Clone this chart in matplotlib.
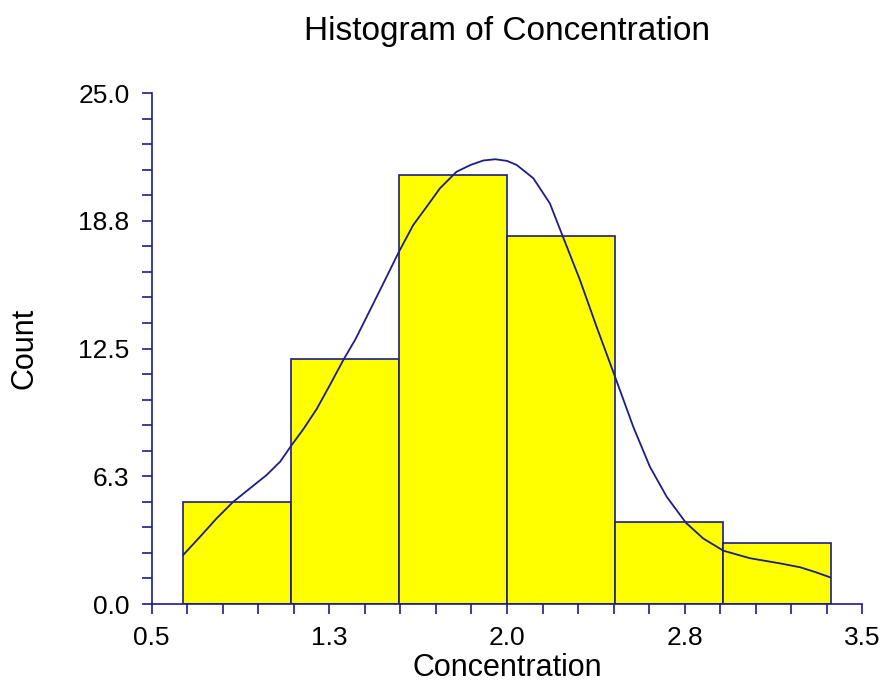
import matplotlib
matplotlib.use("Agg")
import matplotlib.pyplot as plt
import numpy as np
from matplotlib.ticker import FixedLocator

plt.rcParams['font.family'] = ['Liberation Sans', 'DejaVu Sans']

navy = '#1c1c8a'

# histogram bin edges and counts
bin_edges = [0.632, 1.088, 1.544, 2.000, 2.456, 2.912, 3.368]
counts = [5, 12, 21, 18, 4, 3]

# density curve (scaled to counts)
curve_x = [0.633, 0.704, 0.774, 0.844, 0.915, 0.985, 1.042, 1.091, 1.140, 1.197,
           1.254, 1.309, 1.360, 1.408, 1.478, 1.544, 1.604, 1.661, 1.717, 1.787,
           1.846, 1.900, 1.951, 2.000, 2.041, 2.111, 2.181, 2.235, 2.308, 2.378,
           2.456, 2.533, 2.603, 2.674, 2.755, 2.828, 2.913, 3.026, 3.152, 3.237,
           3.300, 3.363]
curve_y = [2.40, 3.29, 4.19, 5.00, 5.66, 6.31, 6.96, 7.78, 8.55, 9.55,
           10.75, 11.94, 12.95, 14.06, 15.69, 17.24, 18.54, 19.44, 20.34, 21.15,
           21.48, 21.70, 21.76, 21.68, 21.48, 20.83, 19.60, 18.00, 15.85, 13.57,
           11.12, 8.67, 6.72, 5.25, 3.98, 3.21, 2.61, 2.24, 1.99, 1.80,
           1.57, 1.31]

xticks = [0.5, 1.25, 2.0, 2.75, 3.5]
xtick_labels = ['0.5', '1.3', '2.0', '2.8', '3.5']
yticks = [0.0, 6.25, 12.5, 18.75, 25.0]
ytick_labels = ['0.0', '6.3', '12.5', '18.8', '25.0']

fig = plt.figure(figsize=(8.85, 6.85), dpi=100)
ax = fig.add_axes([0.1714, 0.1182, 0.803, 0.746])

widths = np.diff(bin_edges)
ax.bar(bin_edges[:-1], counts, width=widths, align='edge', color='#ffff00',
       edgecolor=navy, linewidth=1.2, zorder=2)
ax.plot(curve_x, curve_y, color=navy, linewidth=1.3, zorder=3,
        solid_joinstyle='round')

ax.set_xlim(0.5, 3.5)
ax.set_ylim(0, 25)
ax.xaxis.set_major_locator(FixedLocator(xticks))
ax.set_xticklabels(xtick_labels)
ax.xaxis.set_minor_locator(FixedLocator(np.arange(0.5, 3.51, 0.15)))
ax.yaxis.set_major_locator(FixedLocator(yticks))
ax.set_yticklabels(ytick_labels)
ax.yaxis.set_minor_locator(FixedLocator(np.arange(0, 25.01, 1.25)))

for s in ['top', 'right']:
    ax.spines[s].set_visible(False)
for s in ['left', 'bottom']:
    ax.spines[s].set_color(navy)
    ax.spines[s].set_linewidth(1.2)

ax.tick_params(which='both', direction='out', color=navy, width=1.2, length=7)
ax.tick_params(which='major', labelsize=19, pad=9, labelcolor='black')

ax.set_xlabel('Concentration', fontsize=22, labelpad=2)
ax.set_ylabel('Count', fontsize=22, labelpad=28)
ax.set_title('Histogram of Concentration', fontsize=24, pad=38)

fig.savefig('out.png', dpi=100)
